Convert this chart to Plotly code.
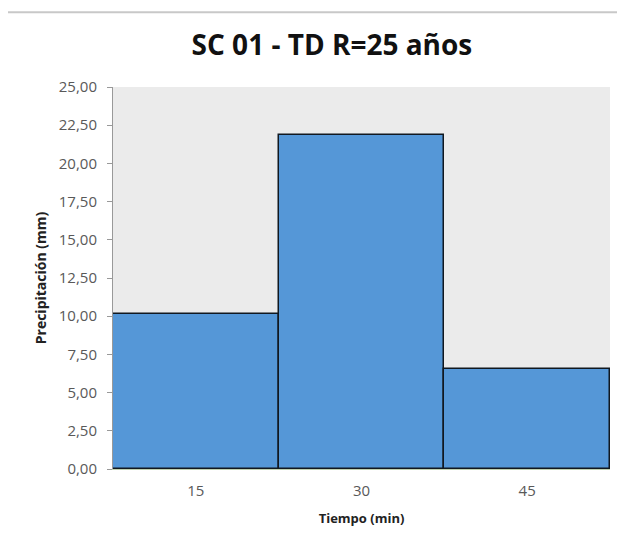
import plotly.graph_objects as go

categories = ["15", "30", "45"]
precip = [10.15, 21.85, 6.55]
y_ticks = [0, 2.5, 5, 7.5, 10, 12.5, 15, 17.5, 20, 22.5, 25]

fig = go.Figure()
fig.add_trace(go.Bar(
    x=categories, y=precip,
    marker=dict(color="#5597d7", line=dict(color="#111820", width=1.5)),
))

fig.update_layout(
    width=617, height=537,
    paper_bgcolor="white",
    plot_bgcolor="#ebebeb",
    separators=",.",
    bargap=0,
    showlegend=False,
    margin=dict(l=105, r=15, t=79, b=76),
    title=dict(text="<b>SC 01 - TD R=25 años</b>", x=0.525, xanchor="center",
               y=0.931, yanchor="middle",
               font=dict(family="Open Sans", size=28, color="#111111")),
    font=dict(family="Open Sans", color="#595959"),
    shapes=[dict(type="line", xref="paper", yref="paper", x0=-0.25, x1=1.05,
                 y0=1.196, y1=1.196, line=dict(color="#c8c8c8", width=2))],
)
fig.update_xaxes(
    type="category",
    title=dict(text="<b>Tiempo (min)</b>", font=dict(size=13, color="#222222"), standoff=14),
    tickfont=dict(size=15, color="#595959"),
    showline=True, linecolor="#c0d0b0", linewidth=1,
    showgrid=False, ticks="", ticklabelstandoff=8,
)
fig.update_yaxes(
    range=[0, 25], tickvals=y_ticks, tickformat=".2f",
    title=dict(text="<b>Precipitación (mm)</b>", font=dict(size=14, color="#222222"), standoff=8),
    tickfont=dict(size=15, color="#595959"),
    showline=True, linecolor="#999999", linewidth=1,
    ticks="outside", ticklen=5, tickcolor="#999999",
    showgrid=False, zeroline=False, ticklabelstandoff=7,
)

fig.write_html("out.html")
